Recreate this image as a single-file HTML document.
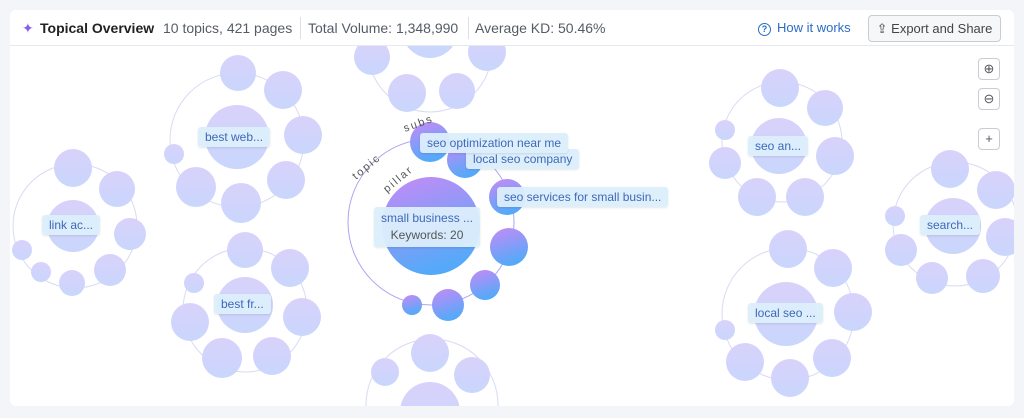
<!DOCTYPE html>
<html><head><style>
html,body{margin:0;width:1024px;height:418px;overflow:hidden;background:#f4f5f8;font-family:"Liberation Sans",sans-serif;}
.card{position:absolute;left:10px;top:10px;width:1004px;height:396px;background:#fff;border-radius:6px;overflow:hidden;}
.hdr{position:absolute;left:0;top:0;width:1004px;height:35px;border-bottom:1px solid #e6e8ee;background:#fff;z-index:5;font-size:14px;color:#555b66;}
.hdr span{position:absolute;top:10px;white-space:nowrap}
.lbl{position:absolute;background:rgba(220,238,252,.95);color:#3d69b8;font-size:12px;padding:3px 7px;border-radius:3px;white-space:nowrap;box-shadow:0 1px 2px rgba(0,0,0,.1)}
.btn{position:absolute;left:968px;width:20px;height:20px;border:1px solid #c9ccd4;border-radius:4px;background:#fff;color:#555;font-size:13px;text-align:center;line-height:20px}
</style></head><body>
<div class="card">
<svg width="1004" height="396" style="position:absolute;left:0;top:0" viewBox="10 10 1004 396">
<defs>
<linearGradient id="a" x1="0" y1="0" x2="0" y2="1"><stop offset="0" stop-color="#d9d2fb"/><stop offset="1" stop-color="#c9d6fc"/></linearGradient>
<linearGradient id="b" x1="0" y1="0" x2="0.3" y2="1"><stop offset="0" stop-color="#c68af6"/><stop offset="1" stop-color="#56a9f9"/></linearGradient>
</defs>
<g fill="none" stroke="#d8dbf2" stroke-width="1">
<circle cx="237" cy="140" r="67"/><circle cx="75" cy="226" r="62"/><circle cx="245" cy="310" r="62"/><circle cx="782" cy="142" r="60"/><circle cx="788" cy="314" r="66"/><circle cx="955" cy="224" r="62"/><circle cx="432" cy="405" r="66"/><circle cx="430" cy="50" r="62"/>
</g>
<circle cx="431" cy="222" r="83" fill="none" stroke="#a9a6f0" stroke-width="1"/>
<g fill="url(#a)">
<circle cx="430" cy="30" r="28"/><circle cx="372" cy="57" r="18"/><circle cx="407" cy="93" r="19"/><circle cx="457" cy="91" r="18"/><circle cx="487" cy="52" r="19"/><circle cx="374" cy="20" r="14"/>
<circle cx="237" cy="137" r="32"/><circle cx="238" cy="73" r="18"/><circle cx="283" cy="90" r="19"/><circle cx="303" cy="135" r="19"/><circle cx="286" cy="180" r="19"/><circle cx="241" cy="203" r="20"/><circle cx="196" cy="187" r="20"/><circle cx="174" cy="154" r="10"/>
<circle cx="73" cy="226" r="26"/><circle cx="73" cy="168" r="19"/><circle cx="117" cy="189" r="18"/><circle cx="130" cy="234" r="16"/><circle cx="110" cy="270" r="16"/><circle cx="72" cy="283" r="13"/><circle cx="41" cy="272" r="10"/><circle cx="22" cy="250" r="10"/>
<circle cx="245" cy="305" r="28"/><circle cx="245" cy="250" r="18"/><circle cx="290" cy="268" r="19"/><circle cx="302" cy="317" r="19"/><circle cx="272" cy="356" r="19"/><circle cx="222" cy="358" r="20"/><circle cx="190" cy="322" r="19"/><circle cx="194" cy="283" r="10"/>
<circle cx="430" cy="412" r="30"/><circle cx="430" cy="353" r="19"/><circle cx="472" cy="375" r="18"/><circle cx="385" cy="372" r="14"/>
<circle cx="779" cy="146" r="28"/><circle cx="780" cy="88" r="19"/><circle cx="825" cy="108" r="18"/><circle cx="835" cy="156" r="19"/><circle cx="805" cy="197" r="19"/><circle cx="757" cy="197" r="19"/><circle cx="725" cy="163" r="16"/><circle cx="725" cy="130" r="10"/>
<circle cx="786" cy="314" r="32"/><circle cx="788" cy="249" r="19"/><circle cx="833" cy="268" r="19"/><circle cx="853" cy="312" r="19"/><circle cx="832" cy="358" r="19"/><circle cx="790" cy="378" r="19"/><circle cx="745" cy="362" r="19"/><circle cx="725" cy="330" r="10"/>
<circle cx="953" cy="226" r="28"/><circle cx="950" cy="169" r="19"/><circle cx="996" cy="190" r="19"/><circle cx="1005" cy="237" r="19"/><circle cx="983" cy="276" r="17"/><circle cx="932" cy="278" r="16"/><circle cx="901" cy="250" r="16"/><circle cx="895" cy="216" r="10"/>
</g>
<g fill="url(#b)">
<circle cx="431" cy="226" r="49"/><circle cx="430" cy="142" r="20"/><circle cx="465" cy="160" r="18"/><circle cx="507" cy="197" r="18"/><circle cx="509" cy="247" r="19"/><circle cx="485" cy="285" r="15"/><circle cx="448" cy="305" r="16"/><circle cx="412" cy="305" r="10"/>
</g>
<g font-size="11" fill="#555" letter-spacing="2" font-family="Liberation Sans">
<text x="356" y="180" transform="rotate(-40 356 180)">topic</text>
<text x="387" y="193" transform="rotate(-40 387 193)">pillar</text>
<text x="405" y="132" transform="rotate(-20 405 132)">subs</text>
</g>
</svg>
<div class="hdr">
<span style="left:12px;color:#8a5cf0">✦</span>
<span style="left:30px;font-weight:bold;color:#222">Topical Overview</span>
<span style="left:153px">10 topics, 421 pages</span>
<div style="position:absolute;left:290px;top:7px;width:1px;height:22px;background:#dcdfe5"></div>
<span style="left:298px">Total Volume: 1,348,990</span>
<div style="position:absolute;left:458px;top:7px;width:1px;height:22px;background:#dcdfe5"></div>
<span style="left:465px">Average KD: 50.46%</span>
<span style="left:748px;color:#2a6cc4;font-size:13px"><b style="display:inline-block;width:11px;height:11px;border:1.5px solid #2a6cc4;border-radius:50%;font-size:9px;text-align:center;line-height:11px;margin-right:6px">?</b>How it works</span>
<div style="position:absolute;left:858px;top:5px;width:131px;height:25px;border:1px solid #c9ccd4;border-radius:4px;background:#f6f7f9;font-size:13px;color:#444;line-height:25px;text-align:center">⇪ Export and Share</div>
</div>
<div class="btn" style="top:48px">⊕</div>
<div class="btn" style="top:78px">⊖</div>
<div class="btn" style="top:118px">+</div>
<div class="lbl" style="left:188px;top:117px">best web...</div>
<div class="lbl" style="left:32px;top:205px">link ac...</div>
<div class="lbl" style="left:204px;top:284px">best fr...</div>
<div class="lbl" style="left:738px;top:126px">seo an...</div>
<div class="lbl" style="left:738px;top:293px">local seo ...</div>
<div class="lbl" style="left:910px;top:205px">search...</div>
<div class="lbl" style="left:456px;top:139px">local seo company</div>
<div class="lbl" style="left:410px;top:123px">seo optimization near me</div>
<div class="lbl" style="left:487px;top:177px">seo services for small busin...</div>
<div class="lbl" style="left:364px;top:197px;text-align:center;line-height:17px">small business ...<br><span style="color:#555">Keywords: 20</span></div>
</div>
</body></html>
